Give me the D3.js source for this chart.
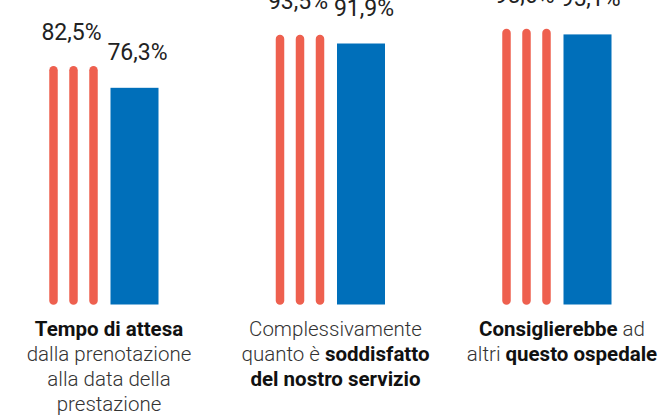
<!DOCTYPE html>
<html>
<head>
<meta charset="utf-8">
<script src="https://cdn.jsdelivr.net/npm/d3@7"></script>
<style>
  html, body { margin: 0; padding: 0; background: #fff; }
  svg { display: block; font-family: Roboto, "Noto Sans", sans-serif; }
  .val { font-size: 23px; font-weight: 400; fill: #222; }
  .cat { font-size: 20.5px; font-weight: 300; fill: #333; }
  .cat .b { font-weight: 700; fill: #111; }
</style>
</head>
<body>
<div id="chart"></div>
<script>
// data
var categories = ["tempo", "soddisfatto", "consiglierebbe"];
var redValues = [82.5, 93.5, 95.6];
var blueValues = [76.3, 91.9, 95.1];

// category labels: lines of [text, bold]
var catLabels = [
  [[["Tempo di attesa", true]], [["dalla prenotazione", false]], [["alla data della", false]], [["prestazione", false]]],
  [[["Complessivamente", false]], [["quanto è ", false], ["soddisfatto", true]], [["del nostro servizio", true]]],
  [[["Consiglierebbe", true], [" ad", false]], [["altri ", false], ["questo ospedale", true]]]
];

var width = 658, height = 417;

var svg = d3.select("#chart").append("svg")
  .attr("width", width)
  .attr("height", height);

var x = d3.scalePoint().domain(categories).range([104, 557]);
var y = d3.scaleLinear().domain([0, 100]).range([304.5, 20.5]);

var it = d3.formatLocale({decimal: ",", thousands: ".", grouping: [3], currency: ["", "€"]});
var fmt = it.format(".1f");

var redOffsets = [-50.5, -30.5, -10.5];
var blueLeft = 6.5, blueW = 48;

var groups = svg.selectAll("g.grp")
  .data(categories)
  .enter().append("g")
  .attr("class", "grp")
  .attr("transform", function(d) { return "translate(" + x(d) + ",0)"; });

// red lines (three per group), blue bar, values, label
groups.each(function(d, i) {
  var g = d3.select(this);
  g.selectAll("line.red")
    .data(redOffsets)
    .enter().append("line")
    .attr("class", "red")
    .attr("x1", function(o) { return o; })
    .attr("x2", function(o) { return o; })
    .attr("y1", y(0) - 4)
    .attr("y2", y(redValues[i]))
    .attr("stroke", "#ee604f")
    .attr("stroke-width", 8.5)
    .attr("stroke-linecap", "round");

  g.append("rect")
    .attr("x", blueLeft)
    .attr("y", y(blueValues[i]))
    .attr("width", blueW)
    .attr("height", y(0) - y(blueValues[i]))
    .attr("fill", "#006fba");

  g.append("text")
    .attr("class", "val")
    .attr("x", redOffsets[1] - 2)
    .attr("y", y(redValues[i]) - 30)
    .attr("text-anchor", "middle")
    .text(fmt(redValues[i]) + "%");

  g.append("text")
    .attr("class", "val")
    .attr("x", blueLeft + blueW / 2 + 3)
    .attr("y", y(blueValues[i]) - 28)
    .attr("text-anchor", "middle")
    .text(fmt(blueValues[i]) + "%");

  // category label
  var t = g.append("text")
    .attr("class", "cat")
    .attr("text-anchor", "middle");
  catLabels[i].forEach(function(line, li) {
    var ln = t.append("tspan")
      .attr("x", 5)
      .attr("y", 336 + li * 25);
    line.forEach(function(seg) {
      ln.append("tspan")
        .attr("class", seg[1] ? "b" : null)
        .text(seg[0]);
    });
  });
});
</script>
</body>
</html>
